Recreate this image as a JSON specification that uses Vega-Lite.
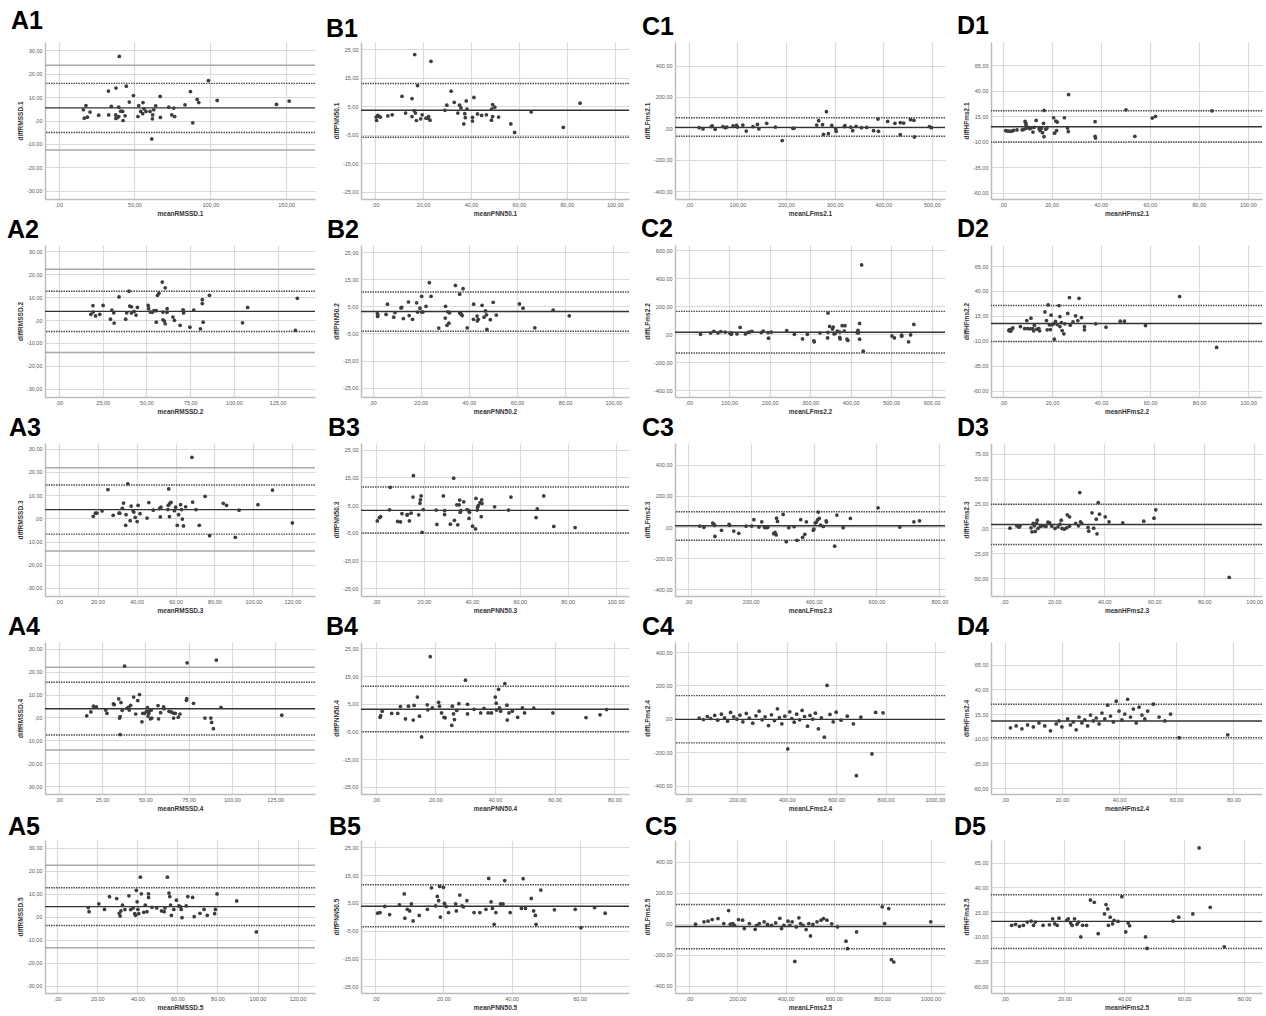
{
"$schema":"https://vega.github.io/schema/vega-lite/v6.json",
"padding":{"left":7,"top":9,"right":0,"bottom":2},
"columns":4,
"bounds":"flush",
"align":"each",
"spacing":{"row":46,"column":46},
"config":{
 "view":{"stroke":null},
 "axis":{"labelFont":"Liberation Sans","labelFontSize":5.5,"labelColor":"#595959","titleFont":"Liberation Sans","titleFontSize":6.5,"titleColor":"#333333","titleFontWeight":"bold","gridColor":"#dadada","gridWidth":1.2,"domainColor":"#bcbcbc","domainWidth":1.5,"ticks":false,"labelPadding":3,"titlePadding":3,"grid":true,"labelOverlap":false,"labelFlush":false,"labelBound":false},
 "title":{"font":"Liberation Sans","fontSize":25,"fontWeight":"bold","color":"#000000","anchor":"start","frame":"group","offset":0},
 "circle":{"size":14,"color":"#3d3d3d","opacity":1}
},
"datasets":{
"lines":[
{"p":"A1","t":"ci","y":23.6},{"p":"A1","t":"ci","y":-12.6},{"p":"A1","t":"loa","y":15.9},{"p":"A1","t":"loa","y":-5.1},{"p":"A1","t":"mean","y":5.4},
{"p":"A2","t":"ci","y":22.2},{"p":"A2","t":"ci","y":-14.2},{"p":"A2","t":"loa","y":12.6},{"p":"A2","t":"loa","y":-5.0},{"p":"A2","t":"mean","y":3.8},
{"p":"A3","t":"ci","y":21.8},{"p":"A3","t":"ci","y":-14.1},{"p":"A3","t":"loa","y":14.4},{"p":"A3","t":"loa","y":-6.8},{"p":"A3","t":"mean","y":3.75},
{"p":"A4","t":"ci","y":21.9},{"p":"A4","t":"ci","y":-14.2},{"p":"A4","t":"loa","y":15.4},{"p":"A4","t":"loa","y":-7.7},{"p":"A4","t":"mean","y":3.8},
{"p":"A5","t":"ci","y":22.4},{"p":"A5","t":"ci","y":-13.5},{"p":"A5","t":"loa","y":12.6},{"p":"A5","t":"loa","y":-3.8},{"p":"A5","t":"mean","y":4.4},
{"p":"B1","t":"loa","y":13.0},{"p":"B1","t":"loa","y":-5.9},{"p":"B1","t":"mean","y":3.6},
{"p":"B2","t":"loa","y":10.3},{"p":"B2","t":"loa","y":-4.2},{"p":"B2","t":"mean","y":3.1},
{"p":"B3","t":"loa","y":11.5},{"p":"B3","t":"loa","y":-5.1},{"p":"B3","t":"mean","y":3.1},
{"p":"B4","t":"loa","y":11.3},{"p":"B4","t":"loa","y":-5.1},{"p":"B4","t":"mean","y":3.0},
{"p":"B5","t":"loa","y":11.5},{"p":"B5","t":"loa","y":-3.6},{"p":"B5","t":"mean","y":3.8},
{"p":"C1","t":"loa","y":67.7},{"p":"C1","t":"loa","y":-50.8},{"p":"C1","t":"mean","y":6.3},
{"p":"C2","t":"loa","y":163},{"p":"C2","t":"loa","y":-133},{"p":"C2","t":"mean","y":14},
{"p":"C3","t":"loa","y":98},{"p":"C3","t":"loa","y":-85},{"p":"C3","t":"mean","y":8.5},
{"p":"C4","t":"loa","y":139},{"p":"C4","t":"loa","y":-144},{"p":"C4","t":"mean","y":-3},
{"p":"C5","t":"loa","y":123},{"p":"C5","t":"loa","y":-162},{"p":"C5","t":"mean","y":-19},
{"p":"D1","t":"loa","y":20.5},{"p":"D1","t":"loa","y":-10},{"p":"D1","t":"mean","y":4.9},
{"p":"D2","t":"loa","y":25.4},{"p":"D2","t":"loa","y":-10.7},{"p":"D2","t":"mean","y":7.3},
{"p":"D3","t":"loa","y":24.3},{"p":"D3","t":"loa","y":-16},{"p":"D3","t":"mean","y":4.0},
{"p":"D4","t":"loa","y":25},{"p":"D4","t":"loa","y":-9},{"p":"D4","t":"mean","y":8},
{"p":"D5","t":"loa","y":32.7},{"p":"D5","t":"loa","y":-21.7},{"p":"D5","t":"mean","y":5.7}
],
"pts":[
{"p":"A1","x":40,"y":27.4},{"p":"A1","x":16.3,"y":4.6},{"p":"A1","x":16.9,"y":1.0},{"p":"A1","x":18.0,"y":6.4},{"p":"A1","x":18.9,"y":1.4},{"p":"A1","x":20.7,"y":3.6},{"p":"A1","x":26.4,"y":2.3},{"p":"A1","x":32.8,"y":12.6},{"p":"A1","x":33.0,"y":2.4},{"p":"A1","x":34.7,"y":6.0},{"p":"A1","x":37.6,"y":2.4},{"p":"A1","x":37.8,"y":13.9},{"p":"A1","x":37.8,"y":0.9},{"p":"A1","x":38.7,"y":1.3},{"p":"A1","x":39.6,"y":1.7},{"p":"A1","x":39.6,"y":5.7},{"p":"A1","x":40.9,"y":4.0},{"p":"A1","x":42.2,"y":3.9},{"p":"A1","x":42.5,"y":0},{"p":"A1","x":43.8,"y":2.0},{"p":"A1","x":44.6,"y":14.7},{"p":"A1","x":46.6,"y":7.9},{"p":"A1","x":49.3,"y":10.7},{"p":"A1","x":52.3,"y":1.7},{"p":"A1","x":52.8,"y":6.4},{"p":"A1","x":54.1,"y":3.9},{"p":"A1","x":55.4,"y":2.9},{"p":"A1","x":55.6,"y":7.7},{"p":"A1","x":56.3,"y":5.0},{"p":"A1","x":57.6,"y":3.9},{"p":"A1","x":60.3,"y":3.9},{"p":"A1","x":61.4,"y":-7.9},{"p":"A1","x":61.8,"y":0.7},{"p":"A1","x":62.0,"y":2.4},{"p":"A1","x":62.7,"y":4.6},{"p":"A1","x":64.0,"y":6.3},{"p":"A1","x":66.9,"y":10.3},{"p":"A1","x":67.1,"y":1.3},{"p":"A1","x":72.6,"y":5.7},{"p":"A1","x":74.6,"y":2.4},{"p":"A1","x":75.9,"y":5.3},{"p":"A1","x":76.5,"y":1.7},{"p":"A1","x":83.3,"y":6.7},{"p":"A1","x":86.9,"y":12.4},{"p":"A1","x":88.4,"y":-1.0},{"p":"A1","x":91.3,"y":9.0},{"p":"A1","x":92.4,"y":7.7},{"p":"A1","x":98.7,"y":17.1},{"p":"A1","x":104.5,"y":8.6},{"p":"A1","x":143.6,"y":6.9},{"p":"A1","x":152.0,"y":8.3},
{"p":"B1","x":16.5,"y":23.2},{"p":"B1","x":23.3,"y":20.8},{"p":"B1","x":17.7,"y":12.3},{"p":"B1","x":11.2,"y":8.5},{"p":"B1","x":15.4,"y":7.7},{"p":"B1","x":0.4,"y":1.2},{"p":"B1","x":0.6,"y":0},{"p":"B1","x":1.1,"y":1.8},{"p":"B1","x":1.7,"y":1.4},{"p":"B1","x":2.2,"y":1.2},{"p":"B1","x":5.3,"y":1.6},{"p":"B1","x":7.1,"y":2.0},{"p":"B1","x":12.7,"y":2.6},{"p":"B1","x":15.4,"y":1.4},{"p":"B1","x":16.3,"y":3.4},{"p":"B1","x":16.8,"y":2.6},{"p":"B1","x":17.2,"y":0},{"p":"B1","x":19.0,"y":0.6},{"p":"B1","x":19.6,"y":2.0},{"p":"B1","x":21.2,"y":0.8},{"p":"B1","x":22.1,"y":0.8},{"p":"B1","x":22.3,"y":1.4},{"p":"B1","x":22.9,"y":0.1},{"p":"B1","x":29.1,"y":3.6},{"p":"B1","x":29.9,"y":5.4},{"p":"B1","x":31.7,"y":10.3},{"p":"B1","x":33.0,"y":6.4},{"p":"B1","x":34.5,"y":2.6},{"p":"B1","x":35.2,"y":5.4},{"p":"B1","x":35.8,"y":4.4},{"p":"B1","x":37.4,"y":2.4},{"p":"B1","x":37.0,"y":-1.2},{"p":"B1","x":37.6,"y":1.0},{"p":"B1","x":38.0,"y":6.9},{"p":"B1","x":38.3,"y":4.0},{"p":"B1","x":40.6,"y":1.1},{"p":"B1","x":40.6,"y":-0.2},{"p":"B1","x":41.2,"y":8.1},{"p":"B1","x":42.7,"y":2.3},{"p":"B1","x":44.4,"y":1.8},{"p":"B1","x":46.4,"y":2.0},{"p":"B1","x":48.5,"y":0.1},{"p":"B1","x":48.6,"y":4.0},{"p":"B1","x":49.0,"y":5.6},{"p":"B1","x":49.0,"y":1.4},{"p":"B1","x":49.9,"y":4.7},{"p":"B1","x":51.5,"y":1.2},{"p":"B1","x":56.6,"y":-1.2},{"p":"B1","x":58.2,"y":-4.2},{"p":"B1","x":65.1,"y":3.0},{"p":"B1","x":78.5,"y":-2.4},{"p":"B1","x":85.5,"y":6.1},
{"p":"C1","x":21,"y":4},{"p":"C1","x":29,"y":-4},{"p":"C1","x":46,"y":11},{"p":"C1","x":48,"y":15},{"p":"C1","x":54,"y":-6},{"p":"C1","x":70,"y":11},{"p":"C1","x":75,"y":4},{"p":"C1","x":78,"y":8},{"p":"C1","x":91,"y":15},{"p":"C1","x":98,"y":19},{"p":"C1","x":100,"y":8},{"p":"C1","x":111,"y":21},{"p":"C1","x":118,"y":-17},{"p":"C1","x":132,"y":11},{"p":"C1","x":141,"y":25},{"p":"C1","x":144,"y":-4},{"p":"C1","x":160,"y":32},{"p":"C1","x":178,"y":8},{"p":"C1","x":192,"y":-78},{"p":"C1","x":214,"y":0},{"p":"C1","x":216,"y":0},{"p":"C1","x":263,"y":21},{"p":"C1","x":267,"y":49},{"p":"C1","x":275,"y":23},{"p":"C1","x":277,"y":-38},{"p":"C1","x":283,"y":106},{"p":"C1","x":287,"y":-34},{"p":"C1","x":294,"y":19},{"p":"C1","x":302,"y":-4},{"p":"C1","x":303,"y":-19},{"p":"C1","x":320,"y":11},{"p":"C1","x":321,"y":17},{"p":"C1","x":333,"y":8},{"p":"C1","x":337,"y":-15},{"p":"C1","x":344,"y":13},{"p":"C1","x":355,"y":4},{"p":"C1","x":366,"y":6},{"p":"C1","x":380,"y":-15},{"p":"C1","x":389,"y":59},{"p":"C1","x":390,"y":-19},{"p":"C1","x":409,"y":44},{"p":"C1","x":424,"y":32},{"p":"C1","x":435,"y":36},{"p":"C1","x":435,"y":-40},{"p":"C1","x":442,"y":34},{"p":"C1","x":456,"y":55},{"p":"C1","x":463,"y":51},{"p":"C1","x":464,"y":-55},{"p":"C1","x":495,"y":11},{"p":"C1","x":499,"y":4},
{"p":"D1","x":1.3,"y":1.0},{"p":"D1","x":1.9,"y":0.7},{"p":"D1","x":2.5,"y":0.7},{"p":"D1","x":3.3,"y":0.4},{"p":"D1","x":3.9,"y":0.7},{"p":"D1","x":4.5,"y":1.4},{"p":"D1","x":5.9,"y":1.7},{"p":"D1","x":8.0,"y":1.7},{"p":"D1","x":8.7,"y":2.3},{"p":"D1","x":9.2,"y":10.1},{"p":"D1","x":9.5,"y":8.2},{"p":"D1","x":9.6,"y":6.2},{"p":"D1","x":9.7,"y":3.6},{"p":"D1","x":10.3,"y":4.3},{"p":"D1","x":11.1,"y":3.0},{"p":"D1","x":11.6,"y":3.6},{"p":"D1","x":12.4,"y":-0.3},{"p":"D1","x":12.9,"y":4.3},{"p":"D1","x":13.7,"y":11.1},{"p":"D1","x":14.9,"y":3.0},{"p":"D1","x":15.3,"y":1.0},{"p":"D1","x":15.9,"y":3.6},{"p":"D1","x":16.3,"y":-0.9},{"p":"D1","x":16.7,"y":8.2},{"p":"D1","x":16.9,"y":20.9},{"p":"D1","x":16.9,"y":-4.9},{"p":"D1","x":17.6,"y":2.3},{"p":"D1","x":18.1,"y":3.6},{"p":"D1","x":20.8,"y":13.7},{"p":"D1","x":21.2,"y":-1.5},{"p":"D1","x":21.7,"y":10.5},{"p":"D1","x":22.0,"y":1.0},{"p":"D1","x":22.3,"y":9.5},{"p":"D1","x":25.2,"y":13.7},{"p":"D1","x":26.5,"y":3.6},{"p":"D1","x":26.9,"y":36.4},{"p":"D1","x":26.8,"y":0.1},{"p":"D1","x":37.7,"y":9.8},{"p":"D1","x":37.7,"y":-4.5},{"p":"D1","x":37.9,"y":-6.2},{"p":"D1","x":50.3,"y":21.5},{"p":"D1","x":53.9,"y":-4.5},{"p":"D1","x":61.0,"y":13.4},{"p":"D1","x":62.3,"y":15.0},{"p":"D1","x":85.3,"y":20.5},
{"p":"A2","x":18.2,"y":2.5},{"p":"A2","x":19.4,"y":6.3},{"p":"A2","x":19.5,"y":3.5},{"p":"A2","x":20.9,"y":1.8},{"p":"A2","x":23.3,"y":2.5},{"p":"A2","x":25.2,"y":6.4},{"p":"A2","x":29.4,"y":0.4},{"p":"A2","x":30.2,"y":4.4},{"p":"A2","x":31.3,"y":3.2},{"p":"A2","x":31.5,"y":-1.3},{"p":"A2","x":34.3,"y":10.1},{"p":"A2","x":38.1,"y":0.4},{"p":"A2","x":38.7,"y":3.2},{"p":"A2","x":40.0,"y":12.6},{"p":"A2","x":40.4,"y":6.1},{"p":"A2","x":41.4,"y":5.8},{"p":"A2","x":41.4,"y":3.1},{"p":"A2","x":42.9,"y":3.8},{"p":"A2","x":44.0,"y":2.2},{"p":"A2","x":44.8,"y":5.5},{"p":"A2","x":51.0,"y":6.4},{"p":"A2","x":51.2,"y":5.0},{"p":"A2","x":52.2,"y":3.5},{"p":"A2","x":53.3,"y":3.4},{"p":"A2","x":54.3,"y":4.1},{"p":"A2","x":55.6,"y":4.1},{"p":"A2","x":55.6,"y":-0.9},{"p":"A2","x":56.3,"y":10.8},{"p":"A2","x":57.1,"y":11.7},{"p":"A2","x":59.0,"y":16.6},{"p":"A2","x":59.4,"y":3.5},{"p":"A2","x":59.4,"y":0.1},{"p":"A2","x":60.2,"y":-0.4},{"p":"A2","x":60.7,"y":-1.6},{"p":"A2","x":60.7,"y":14.1},{"p":"A2","x":61.7,"y":3.4},{"p":"A2","x":61.8,"y":5.0},{"p":"A2","x":65.1,"y":1.3},{"p":"A2","x":66.0,"y":-0.1},{"p":"A2","x":69.2,"y":-2.3},{"p":"A2","x":70.9,"y":4.5},{"p":"A2","x":71.2,"y":3.8},{"p":"A2","x":71.2,"y":3.1},{"p":"A2","x":74.8,"y":-3.1},{"p":"A2","x":77.0,"y":4.4},{"p":"A2","x":80.8,"y":-3.8},{"p":"A2","x":81.9,"y":8.9},{"p":"A2","x":81.9,"y":7.2},{"p":"A2","x":82.4,"y":-0.9},{"p":"A2","x":86.0,"y":10.8},{"p":"A2","x":104.9,"y":-1.2},{"p":"A2","x":107.8,"y":5.5},{"p":"A2","x":135.1,"y":-4.5},{"p":"A2","x":136.2,"y":9.5},
{"p":"B2","x":2.0,"y":2.3},{"p":"B2","x":2.1,"y":1.3},{"p":"B2","x":2.2,"y":1.8},{"p":"B2","x":5.6,"y":2.0},{"p":"B2","x":6.2,"y":5.8},{"p":"B2","x":8.8,"y":1.0},{"p":"B2","x":9.3,"y":2.7},{"p":"B2","x":11.8,"y":4.4},{"p":"B2","x":12.1,"y":4.6},{"p":"B2","x":12.8,"y":0.5},{"p":"B2","x":14.9,"y":6.6},{"p":"B2","x":15.2,"y":1.6},{"p":"B2","x":16.6,"y":0.2},{"p":"B2","x":18.3,"y":6.3},{"p":"B2","x":18.7,"y":2.9},{"p":"B2","x":19.7,"y":4.3},{"p":"B2","x":20.4,"y":8.7},{"p":"B2","x":20.4,"y":2.9},{"p":"B2","x":20.9,"y":2.9},{"p":"B2","x":22.2,"y":5.0},{"p":"B2","x":23.6,"y":13.7},{"p":"B2","x":24.3,"y":8.7},{"p":"B2","x":27.5,"y":-3.0},{"p":"B2","x":30.3,"y":5.0},{"p":"B2","x":30.2,"y":0.7},{"p":"B2","x":30.9,"y":-2.0},{"p":"B2","x":31.3,"y":3.0},{"p":"B2","x":31.7,"y":-1.2},{"p":"B2","x":32.0,"y":2.6},{"p":"B2","x":34.4,"y":12.7},{"p":"B2","x":36.2,"y":9.5},{"p":"B2","x":36.2,"y":2.6},{"p":"B2","x":36.5,"y":2.4},{"p":"B2","x":36.9,"y":2.0},{"p":"B2","x":37.2,"y":1.6},{"p":"B2","x":37.6,"y":11.5},{"p":"B2","x":39.3,"y":-2.9},{"p":"B2","x":42.0,"y":5.8},{"p":"B2","x":41.9,"y":0.2},{"p":"B2","x":43.4,"y":1.4},{"p":"B2","x":43.5,"y":-0.4},{"p":"B2","x":43.9,"y":0.2},{"p":"B2","x":45.5,"y":5.4},{"p":"B2","x":46.3,"y":1.0},{"p":"B2","x":46.9,"y":3.3},{"p":"B2","x":47.3,"y":1.9},{"p":"B2","x":47.5,"y":-3.5},{"p":"B2","x":48.9,"y":0.1},{"p":"B2","x":50.1,"y":6.5},{"p":"B2","x":51.4,"y":1.8},{"p":"B2","x":61.0,"y":5.9},{"p":"B2","x":62.5,"y":4.3},{"p":"B2","x":67.4,"y":-2.9},{"p":"B2","x":75.0,"y":3.6},{"p":"B2","x":81.7,"y":1.5},
{"p":"C2","x":29,"y":0},{"p":"C2","x":54,"y":9},{"p":"C2","x":62,"y":21},{"p":"C2","x":72,"y":9},{"p":"C2","x":79,"y":19},{"p":"C2","x":90,"y":16},{"p":"C2","x":102,"y":7},{"p":"C2","x":105,"y":0},{"p":"C2","x":106,"y":9},{"p":"C2","x":119,"y":2},{"p":"C2","x":127,"y":49},{"p":"C2","x":140,"y":2},{"p":"C2","x":147,"y":14},{"p":"C2","x":150,"y":16},{"p":"C2","x":156,"y":21},{"p":"C2","x":179,"y":12},{"p":"C2","x":184,"y":23},{"p":"C2","x":197,"y":-28},{"p":"C2","x":196,"y":12},{"p":"C2","x":204,"y":16},{"p":"C2","x":242,"y":26},{"p":"C2","x":261,"y":0},{"p":"C2","x":281,"y":-33},{"p":"C2","x":293,"y":0},{"p":"C2","x":309,"y":-47},{"p":"C2","x":310,"y":-54},{"p":"C2","x":324,"y":9},{"p":"C2","x":344,"y":151},{"p":"C2","x":343,"y":-26},{"p":"C2","x":344,"y":14},{"p":"C2","x":348,"y":56},{"p":"C2","x":355,"y":37},{"p":"C2","x":357,"y":51},{"p":"C2","x":359,"y":2},{"p":"C2","x":362,"y":7},{"p":"C2","x":367,"y":23},{"p":"C2","x":373,"y":16},{"p":"C2","x":373,"y":-23},{"p":"C2","x":374,"y":-33},{"p":"C2","x":379,"y":61},{"p":"C2","x":384,"y":23},{"p":"C2","x":386,"y":61},{"p":"C2","x":391,"y":-35},{"p":"C2","x":393,"y":-44},{"p":"C2","x":416,"y":12},{"p":"C2","x":418,"y":28},{"p":"C2","x":419,"y":9},{"p":"C2","x":422,"y":-35},{"p":"C2","x":422,"y":77},{"p":"C2","x":427,"y":494},{"p":"C2","x":431,"y":-121},{"p":"C2","x":502,"y":-12},{"p":"C2","x":508,"y":-26},{"p":"C2","x":526,"y":-7},{"p":"C2","x":526,"y":-14},{"p":"C2","x":543,"y":-54},{"p":"C2","x":548,"y":-5},{"p":"C2","x":556,"y":70},
{"p":"D2","x":2.4,"y":0.3},{"p":"D2","x":2.6,"y":1.3},{"p":"D2","x":3.1,"y":-0.4},{"p":"D2","x":3.6,"y":1.6},{"p":"D2","x":4.0,"y":3.0},{"p":"D2","x":7.1,"y":4.3},{"p":"D2","x":8.8,"y":2.3},{"p":"D2","x":9.7,"y":10.3},{"p":"D2","x":10.0,"y":2.3},{"p":"D2","x":11.1,"y":2.0},{"p":"D2","x":11.4,"y":12.7},{"p":"D2","x":12.1,"y":2.3},{"p":"D2","x":12.5,"y":0},{"p":"D2","x":12.8,"y":5.6},{"p":"D2","x":13.8,"y":1.6},{"p":"D2","x":14.6,"y":2.3},{"p":"D2","x":14.9,"y":0},{"p":"D2","x":17.1,"y":19.0},{"p":"D2","x":17.7,"y":10.3},{"p":"D2","x":18.0,"y":1.0},{"p":"D2","x":18.4,"y":26.0},{"p":"D2","x":18.9,"y":6.0},{"p":"D2","x":19.3,"y":1.3},{"p":"D2","x":19.6,"y":15.7},{"p":"D2","x":19.9,"y":6.0},{"p":"D2","x":20.6,"y":7.0},{"p":"D2","x":20.9,"y":-8.4},{"p":"D2","x":21.4,"y":9.4},{"p":"D2","x":22.1,"y":6.3},{"p":"D2","x":22.8,"y":25.4},{"p":"D2","x":23.2,"y":14.3},{"p":"D2","x":23.2,"y":4.3},{"p":"D2","x":23.8,"y":8.3},{"p":"D2","x":24.1,"y":0.3},{"p":"D2","x":24.8,"y":-3.0},{"p":"D2","x":25.2,"y":7.0},{"p":"D2","x":26.4,"y":17.4},{"p":"D2","x":27.1,"y":33.4},{"p":"D2","x":27.4,"y":5.6},{"p":"D2","x":28.5,"y":8.9},{"p":"D2","x":29.6,"y":15.0},{"p":"D2","x":30.5,"y":10.3},{"p":"D2","x":31.0,"y":32.7},{"p":"D2","x":32.0,"y":13.3},{"p":"D2","x":33.2,"y":4.3},{"p":"D2","x":33.2,"y":1.0},{"p":"D2","x":37.8,"y":7.0},{"p":"D2","x":42.0,"y":3.6},{"p":"D2","x":47.8,"y":9.7},{"p":"D2","x":49.5,"y":9.7},{"p":"D2","x":58.1,"y":5.3},{"p":"D2","x":72.0,"y":34.4},{"p":"D2","x":87.1,"y":-16.7},
{"p":"A3","x":17.8,"y":0.9},{"p":"A3","x":18.9,"y":2.2},{"p":"A3","x":19.7,"y":2.3},{"p":"A3","x":22.3,"y":3.2},{"p":"A3","x":25.3,"y":12.4},{"p":"A3","x":28.0,"y":1.3},{"p":"A3","x":31.0,"y":2.2},{"p":"A3","x":31.4,"y":2.2},{"p":"A3","x":32.7,"y":4.3},{"p":"A3","x":33.3,"y":6.6},{"p":"A3","x":34.4,"y":-3.0},{"p":"A3","x":34.6,"y":1.6},{"p":"A3","x":35.5,"y":14.9},{"p":"A3","x":36.7,"y":-1.0},{"p":"A3","x":37.2,"y":5.3},{"p":"A3","x":38.2,"y":3.3},{"p":"A3","x":38.6,"y":2.7},{"p":"A3","x":39.3,"y":0.4},{"p":"A3","x":40.3,"y":-1.4},{"p":"A3","x":40.8,"y":5.6},{"p":"A3","x":41.8,"y":2.0},{"p":"A3","x":45.4,"y":0.1},{"p":"A3","x":46.3,"y":6.8},{"p":"A3","x":48.6,"y":3.5},{"p":"A3","x":51.8,"y":4.2},{"p":"A3","x":52.2,"y":0.6},{"p":"A3","x":52.5,"y":4.8},{"p":"A3","x":56.1,"y":3.8},{"p":"A3","x":56.3,"y":5.6},{"p":"A3","x":56.5,"y":12.7},{"p":"A3","x":56.9,"y":0.7},{"p":"A3","x":57.1,"y":6.5},{"p":"A3","x":57.7,"y":6.9},{"p":"A3","x":59.4,"y":3.3},{"p":"A3","x":60.1,"y":4.8},{"p":"A3","x":60.9,"y":-3.0},{"p":"A3","x":61.6,"y":1.6},{"p":"A3","x":62.6,"y":5.9},{"p":"A3","x":63.1,"y":3.8},{"p":"A3","x":63.5,"y":-0.3},{"p":"A3","x":64.1,"y":-3.3},{"p":"A3","x":65.2,"y":5.0},{"p":"A3","x":68.4,"y":26.3},{"p":"A3","x":68.8,"y":7.0},{"p":"A3","x":70.5,"y":3.8},{"p":"A3","x":72.2,"y":-3.0},{"p":"A3","x":75.2,"y":9.5},{"p":"A3","x":77.5,"y":-7.5},{"p":"A3","x":84.5,"y":6.5},{"p":"A3","x":86.2,"y":5.6},{"p":"A3","x":90.7,"y":-8.2},{"p":"A3","x":92.6,"y":3.5},{"p":"A3","x":102.3,"y":5.9},{"p":"A3","x":109.8,"y":12.2},{"p":"A3","x":120.0,"y":-2.0},
{"p":"B3","x":0.5,"y":-0.7},{"p":"B3","x":1.4,"y":0.5},{"p":"B3","x":1.9,"y":0.8},{"p":"B3","x":5.6,"y":3.3},{"p":"B3","x":5.9,"y":11.4},{"p":"B3","x":9.0,"y":-0.9},{"p":"B3","x":10.2,"y":-1.1},{"p":"B3","x":10.8,"y":1.9},{"p":"B3","x":12.9,"y":1.4},{"p":"B3","x":13.1,"y":1.6},{"p":"B3","x":13.9,"y":-0.7},{"p":"B3","x":14.6,"y":2.1},{"p":"B3","x":15.4,"y":7.9},{"p":"B3","x":15.6,"y":15.6},{"p":"B3","x":17.8,"y":1.5},{"p":"B3","x":18.3,"y":5.7},{"p":"B3","x":18.5,"y":6.9},{"p":"B3","x":18.8,"y":8.3},{"p":"B3","x":19.2,"y":-4.8},{"p":"B3","x":19.7,"y":3.4},{"p":"B3","x":25.1,"y":3.2},{"p":"B3","x":25.4,"y":-2.0},{"p":"B3","x":28.1,"y":8.3},{"p":"B3","x":28.6,"y":3.0},{"p":"B3","x":28.6,"y":1.6},{"p":"B3","x":31.0,"y":-1.9},{"p":"B3","x":32.4,"y":14.7},{"p":"B3","x":32.7,"y":-0.5},{"p":"B3","x":33.7,"y":5.1},{"p":"B3","x":34.1,"y":-2.1},{"p":"B3","x":34.7,"y":5.1},{"p":"B3","x":34.9,"y":6.8},{"p":"B3","x":35.1,"y":2.4},{"p":"B3","x":35.4,"y":3.0},{"p":"B3","x":36.6,"y":6.2},{"p":"B3","x":38.0,"y":3.4},{"p":"B3","x":38.8,"y":3.0},{"p":"B3","x":38.8,"y":0.2},{"p":"B3","x":39.0,"y":2.4},{"p":"B3","x":40.3,"y":-2.6},{"p":"B3","x":41.5,"y":-3.6},{"p":"B3","x":41.7,"y":7.4},{"p":"B3","x":42.2,"y":3.2},{"p":"B3","x":42.4,"y":4.2},{"p":"B3","x":42.7,"y":4.9},{"p":"B3","x":43.4,"y":5.9},{"p":"B3","x":43.9,"y":0.8},{"p":"B3","x":44.1,"y":6.9},{"p":"B3","x":44.2,"y":5.6},{"p":"B3","x":49.5,"y":4.4},{"p":"B3","x":55.3,"y":3.2},{"p":"B3","x":56.3,"y":7.9},{"p":"B3","x":66.8,"y":0.5},{"p":"B3","x":67.3,"y":3.6},{"p":"B3","x":70.0,"y":8.3},{"p":"B3","x":74.2,"y":-2.7},{"p":"B3","x":83.1,"y":-3.1},
{"p":"C3","x":38,"y":6},{"p":"C3","x":51,"y":-2},{"p":"C3","x":79,"y":26},{"p":"C3","x":83,"y":17},{"p":"C3","x":86,"y":-60},{"p":"C3","x":85,"y":11},{"p":"C3","x":107,"y":-21},{"p":"C3","x":131,"y":17},{"p":"C3","x":133,"y":11},{"p":"C3","x":146,"y":-26},{"p":"C3","x":162,"y":-40},{"p":"C3","x":185,"y":6},{"p":"C3","x":203,"y":6},{"p":"C3","x":210,"y":47},{"p":"C3","x":226,"y":0},{"p":"C3","x":235,"y":34},{"p":"C3","x":244,"y":-2},{"p":"C3","x":249,"y":-4},{"p":"C3","x":254,"y":-2},{"p":"C3","x":273,"y":-43},{"p":"C3","x":277,"y":-34},{"p":"C3","x":281,"y":-51},{"p":"C3","x":282,"y":57},{"p":"C3","x":285,"y":36},{"p":"C3","x":303,"y":81},{"p":"C3","x":313,"y":-94},{"p":"C3","x":321,"y":-4},{"p":"C3","x":338,"y":2},{"p":"C3","x":347,"y":-85},{"p":"C3","x":359,"y":47},{"p":"C3","x":365,"y":-66},{"p":"C3","x":372,"y":-47},{"p":"C3","x":377,"y":34},{"p":"C3","x":399,"y":-21},{"p":"C3","x":401,"y":-13},{"p":"C3","x":405,"y":26},{"p":"C3","x":409,"y":32},{"p":"C3","x":413,"y":47},{"p":"C3","x":415,"y":96},{"p":"C3","x":418,"y":55},{"p":"C3","x":422,"y":13},{"p":"C3","x":431,"y":4},{"p":"C3","x":440,"y":40},{"p":"C3","x":441,"y":32},{"p":"C3","x":467,"y":-123},{"p":"C3","x":474,"y":77},{"p":"C3","x":494,"y":-4},{"p":"C3","x":517,"y":55},{"p":"C3","x":605,"y":123},{"p":"C3","x":674,"y":0},{"p":"C3","x":719,"y":34},{"p":"C3","x":737,"y":40},
{"p":"D3","x":2.3,"y":0.3},{"p":"D3","x":5.0,"y":2.7},{"p":"D3","x":5.9,"y":1.3},{"p":"D3","x":6.3,"y":2.7},{"p":"D3","x":10.7,"y":0.7},{"p":"D3","x":11.1,"y":-3.3},{"p":"D3","x":11.6,"y":5.0},{"p":"D3","x":12.0,"y":2.7},{"p":"D3","x":12.4,"y":-3.0},{"p":"D3","x":12.9,"y":5.0},{"p":"D3","x":13.2,"y":8.3},{"p":"D3","x":13.5,"y":0},{"p":"D3","x":14.5,"y":2.0},{"p":"D3","x":15.7,"y":2.7},{"p":"D3","x":16.7,"y":2.0},{"p":"D3","x":17.5,"y":6.3},{"p":"D3","x":18.2,"y":5.7},{"p":"D3","x":19.0,"y":2.3},{"p":"D3","x":20.3,"y":0},{"p":"D3","x":21.5,"y":1.7},{"p":"D3","x":22.3,"y":4.3},{"p":"D3","x":22.8,"y":8.3},{"p":"D3","x":23.1,"y":0},{"p":"D3","x":24.0,"y":-0.7},{"p":"D3","x":25.0,"y":0.7},{"p":"D3","x":25.2,"y":13.7},{"p":"D3","x":26.1,"y":11.7},{"p":"D3","x":26.1,"y":2.3},{"p":"D3","x":28.6,"y":5.0},{"p":"D3","x":29.7,"y":2.7},{"p":"D3","x":30.2,"y":36.0},{"p":"D3","x":30.5,"y":6.7},{"p":"D3","x":31.0,"y":5.0},{"p":"D3","x":33.5,"y":1.0},{"p":"D3","x":33.8,"y":-2.7},{"p":"D3","x":35.1,"y":15.7},{"p":"D3","x":35.8,"y":0.3},{"p":"D3","x":36.8,"y":9.3},{"p":"D3","x":37.1,"y":-5.3},{"p":"D3","x":37.6,"y":26.0},{"p":"D3","x":38.1,"y":14.3},{"p":"D3","x":40.4,"y":11.7},{"p":"D3","x":41.9,"y":6.7},{"p":"D3","x":47.4,"y":5.7},{"p":"D3","x":55.8,"y":7.3},{"p":"D3","x":59.9,"y":10.3},{"p":"D3","x":60.6,"y":18.7},{"p":"D3","x":90,"y":-49.0},
{"p":"A4","x":16.1,"y":0.7},{"p":"A4","x":18.5,"y":2.4},{"p":"A4","x":20.0,"y":4.9},{"p":"A4","x":21.7,"y":4.6},{"p":"A4","x":27.1,"y":3.2},{"p":"A4","x":27.8,"y":1.8},{"p":"A4","x":31.5,"y":5.9},{"p":"A4","x":32.0,"y":5.6},{"p":"A4","x":34.6,"y":8.1},{"p":"A4","x":35.1,"y":-0.3},{"p":"A4","x":35.4,"y":0.3},{"p":"A4","x":35.4,"y":-7.5},{"p":"A4","x":35.9,"y":6.5},{"p":"A4","x":36.6,"y":3.1},{"p":"A4","x":38.0,"y":22.5},{"p":"A4","x":39.3,"y":4.0},{"p":"A4","x":40.2,"y":4.4},{"p":"A4","x":40.7,"y":3.2},{"p":"A4","x":41.5,"y":5.3},{"p":"A4","x":43.2,"y":8.9},{"p":"A4","x":44.4,"y":1.5},{"p":"A4","x":45.6,"y":7.4},{"p":"A4","x":46.6,"y":10.0},{"p":"A4","x":48.0,"y":-1.9},{"p":"A4","x":48.5,"y":1.8},{"p":"A4","x":49.5,"y":1.8},{"p":"A4","x":50.7,"y":2.7},{"p":"A4","x":51.2,"y":4.3},{"p":"A4","x":51.5,"y":0.6},{"p":"A4","x":52.0,"y":1.8},{"p":"A4","x":52.4,"y":3.1},{"p":"A4","x":52.9,"y":-0.6},{"p":"A4","x":53.4,"y":3.2},{"p":"A4","x":53.7,"y":-0.3},{"p":"A4","x":57.3,"y":5.2},{"p":"A4","x":57.6,"y":-0.6},{"p":"A4","x":58.8,"y":2.1},{"p":"A4","x":60.5,"y":4.6},{"p":"A4","x":60.7,"y":3.8},{"p":"A4","x":63.7,"y":2.7},{"p":"A4","x":64.9,"y":2.4},{"p":"A4","x":66.1,"y":1.9},{"p":"A4","x":66.3,"y":-0.3},{"p":"A4","x":67.3,"y":1.8},{"p":"A4","x":69.0,"y":0.1},{"p":"A4","x":70.0,"y":1.5},{"p":"A4","x":73.7,"y":7.5},{"p":"A4","x":73.9,"y":8.2},{"p":"A4","x":74.1,"y":23.9},{"p":"A4","x":77.8,"y":6.2},{"p":"A4","x":84.4,"y":-0.3},{"p":"A4","x":87.8,"y":-0.3},{"p":"A4","x":88.3,"y":-2.2},{"p":"A4","x":89.3,"y":-4.9},{"p":"A4","x":91.0,"y":25.1},{"p":"A4","x":93.7,"y":4.4},{"p":"A4","x":128.8,"y":1.0},
{"p":"B4","x":1.5,"y":0.1},{"p":"B4","x":1.7,"y":0.7},{"p":"B4","x":2.2,"y":2.3},{"p":"B4","x":5.4,"y":1.5},{"p":"B4","x":7.4,"y":1.5},{"p":"B4","x":8.3,"y":4.0},{"p":"B4","x":10.0,"y":-0.5},{"p":"B4","x":11.0,"y":4.1},{"p":"B4","x":12.6,"y":-0.9},{"p":"B4","x":12.9,"y":4.4},{"p":"B4","x":14.0,"y":7.4},{"p":"B4","x":14.7,"y":0.5},{"p":"B4","x":15.4,"y":-7.0},{"p":"B4","x":17.3,"y":4.6},{"p":"B4","x":17.5,"y":2.8},{"p":"B4","x":18.3,"y":22.0},{"p":"B4","x":19.0,"y":3.5},{"p":"B4","x":21.1,"y":5.5},{"p":"B4","x":21.4,"y":4.1},{"p":"B4","x":22.1,"y":1.7},{"p":"B4","x":22.9,"y":0.1},{"p":"B4","x":23.3,"y":-0.1},{"p":"B4","x":25.5,"y":-2.8},{"p":"B4","x":25.7,"y":4.1},{"p":"B4","x":26.1,"y":1.3},{"p":"B4","x":26.4,"y":-0.7},{"p":"B4","x":27.2,"y":2.6},{"p":"B4","x":27.9,"y":5.0},{"p":"B4","x":30.1,"y":13.5},{"p":"B4","x":30.8,"y":4.8},{"p":"B4","x":30.8,"y":1.3},{"p":"B4","x":33.0,"y":3.0},{"p":"B4","x":35.2,"y":1.7},{"p":"B4","x":36.3,"y":3.3},{"p":"B4","x":37.7,"y":1.7},{"p":"B4","x":38.8,"y":1.7},{"p":"B4","x":40.1,"y":7.4},{"p":"B4","x":40.4,"y":5.2},{"p":"B4","x":40.5,"y":2.7},{"p":"B4","x":41.2,"y":10.2},{"p":"B4","x":41.5,"y":3.5},{"p":"B4","x":41.9,"y":2.3},{"p":"B4","x":43.3,"y":12.3},{"p":"B4","x":44.0,"y":4.5},{"p":"B4","x":44.1,"y":-0.9},{"p":"B4","x":44.7,"y":1.7},{"p":"B4","x":45.8,"y":2.3},{"p":"B4","x":47.6,"y":0.1},{"p":"B4","x":49.2,"y":3.5},{"p":"B4","x":49.9,"y":1.7},{"p":"B4","x":53.0,"y":3.4},{"p":"B4","x":59.4,"y":1.7},{"p":"B4","x":70.5,"y":0},{"p":"B4","x":75.2,"y":1.0},{"p":"B4","x":77.4,"y":2.9},
{"p":"C4","x":45,"y":5},{"p":"C4","x":62,"y":-4},{"p":"C4","x":78,"y":14},{"p":"C4","x":92,"y":2},{"p":"C4","x":108,"y":20},{"p":"C4","x":120,"y":-8},{"p":"C4","x":135,"y":28},{"p":"C4","x":148,"y":6},{"p":"C4","x":160,"y":-14},{"p":"C4","x":172,"y":38},{"p":"C4","x":185,"y":12},{"p":"C4","x":198,"y":-2},{"p":"C4","x":210,"y":22},{"p":"C4","x":222,"y":-18},{"p":"C4","x":236,"y":32},{"p":"C4","x":248,"y":4},{"p":"C4","x":262,"y":-26},{"p":"C4","x":275,"y":18},{"p":"C4","x":288,"y":46},{"p":"C4","x":300,"y":-6},{"p":"C4","x":312,"y":12},{"p":"C4","x":326,"y":-40},{"p":"C4","x":338,"y":24},{"p":"C4","x":350,"y":-10},{"p":"C4","x":362,"y":60},{"p":"C4","x":370,"y":8},{"p":"C4","x":380,"y":-30},{"p":"C4","x":392,"y":16},{"p":"C4","x":404,"y":-180},{"p":"C4","x":412,"y":42},{"p":"C4","x":420,"y":2},{"p":"C4","x":430,"y":-20},{"p":"C4","x":440,"y":28},{"p":"C4","x":452,"y":-6},{"p":"C4","x":462,"y":50},{"p":"C4","x":472,"y":14},{"p":"C4","x":484,"y":-44},{"p":"C4","x":494,"y":20},{"p":"C4","x":505,"y":-2},{"p":"C4","x":516,"y":34},{"p":"C4","x":528,"y":-60},{"p":"C4","x":540,"y":6},{"p":"C4","x":552,"y":-110},{"p":"C4","x":563,"y":200},{"p":"C4","x":575,"y":26},{"p":"C4","x":588,"y":-18},{"p":"C4","x":600,"y":40},{"p":"C4","x":620,"y":-8},{"p":"C4","x":645,"y":16},{"p":"C4","x":670,"y":-30},{"p":"C4","x":682,"y":-340},{"p":"C4","x":700,"y":10},{"p":"C4","x":745,"y":-210},{"p":"C4","x":760,"y":38},{"p":"C4","x":790,"y":36},
{"p":"D4","x":2,"y":1},{"p":"D4","x":4,"y":3},{"p":"D4","x":6,"y":0},{"p":"D4","x":8,"y":4},{"p":"D4","x":10,"y":2},{"p":"D4","x":12,"y":6},{"p":"D4","x":14,"y":3},{"p":"D4","x":16,"y":-2},{"p":"D4","x":18,"y":5},{"p":"D4","x":19,"y":8},{"p":"D4","x":20,"y":2},{"p":"D4","x":22,"y":10},{"p":"D4","x":23,"y":4},{"p":"D4","x":24,"y":7},{"p":"D4","x":25,"y":-1},{"p":"D4","x":26,"y":12},{"p":"D4","x":27,"y":6},{"p":"D4","x":28,"y":9},{"p":"D4","x":29,"y":3},{"p":"D4","x":30,"y":14},{"p":"D4","x":31,"y":8},{"p":"D4","x":32,"y":11},{"p":"D4","x":33,"y":5},{"p":"D4","x":34,"y":16},{"p":"D4","x":35,"y":10},{"p":"D4","x":36,"y":24},{"p":"D4","x":37,"y":13},{"p":"D4","x":38,"y":7},{"p":"D4","x":39,"y":28},{"p":"D4","x":40,"y":18},{"p":"D4","x":41,"y":9},{"p":"D4","x":42,"y":15},{"p":"D4","x":43,"y":30},{"p":"D4","x":44,"y":12},{"p":"D4","x":45,"y":20},{"p":"D4","x":46,"y":6},{"p":"D4","x":47,"y":22},{"p":"D4","x":48,"y":14},{"p":"D4","x":49,"y":10},{"p":"D4","x":50,"y":18},{"p":"D4","x":52,"y":25},{"p":"D4","x":54,"y":12},{"p":"D4","x":56,"y":8},{"p":"D4","x":58,"y":15},{"p":"D4","x":61,"y":-9},{"p":"D4","x":78,"y":-6},
{"p":"A5","x":15.5,"y":4.0},{"p":"A5","x":15.9,"y":2.2},{"p":"A5","x":20.8,"y":5.6},{"p":"A5","x":23.6,"y":3.2},{"p":"A5","x":26.1,"y":8.7},{"p":"A5","x":29.7,"y":7.9},{"p":"A5","x":31.0,"y":1.5},{"p":"A5","x":31.4,"y":0.3},{"p":"A5","x":31.8,"y":2.5},{"p":"A5","x":32.6,"y":5.1},{"p":"A5","x":33.8,"y":3.1},{"p":"A5","x":35.8,"y":9.1},{"p":"A5","x":36.7,"y":3.1},{"p":"A5","x":37.9,"y":3.8},{"p":"A5","x":38.7,"y":1.3},{"p":"A5","x":39.1,"y":0.6},{"p":"A5","x":39.5,"y":11.5},{"p":"A5","x":39.9,"y":6.5},{"p":"A5","x":40.3,"y":3.2},{"p":"A5","x":40.7,"y":1.3},{"p":"A5","x":41.5,"y":17.2},{"p":"A5","x":42.0,"y":10.0},{"p":"A5","x":43.2,"y":1.9},{"p":"A5","x":44.0,"y":5.0},{"p":"A5","x":44.8,"y":2.2},{"p":"A5","x":45.6,"y":10.0},{"p":"A5","x":45.6,"y":8.4},{"p":"A5","x":47.3,"y":4.1},{"p":"A5","x":49.7,"y":3.8},{"p":"A5","x":52.1,"y":2.5},{"p":"A5","x":53.4,"y":2.2},{"p":"A5","x":53.8,"y":3.8},{"p":"A5","x":55.0,"y":17.2},{"p":"A5","x":55.8,"y":10.3},{"p":"A5","x":56.2,"y":8.8},{"p":"A5","x":56.6,"y":5.1},{"p":"A5","x":57.0,"y":0.6},{"p":"A5","x":58.2,"y":3.2},{"p":"A5","x":59.5,"y":7.2},{"p":"A5","x":60.7,"y":4.7},{"p":"A5","x":61.5,"y":4.4},{"p":"A5","x":61.9,"y":3.2},{"p":"A5","x":62.3,"y":-0.4},{"p":"A5","x":64.4,"y":4.7},{"p":"A5","x":65.2,"y":8.8},{"p":"A5","x":67.6,"y":8.4},{"p":"A5","x":68.4,"y":0},{"p":"A5","x":71.3,"y":1.5},{"p":"A5","x":73.3,"y":3.2},{"p":"A5","x":74.9,"y":0.6},{"p":"A5","x":78.6,"y":1.3},{"p":"A5","x":79.0,"y":3.2},{"p":"A5","x":79.8,"y":9.9},{"p":"A5","x":89.6,"y":6.9},{"p":"A5","x":99.4,"y":-6.6},
{"p":"B5","x":0.7,"y":1.3},{"p":"B5","x":1.4,"y":1.5},{"p":"B5","x":2.8,"y":3.7},{"p":"B5","x":4.2,"y":0.8},{"p":"B5","x":7.1,"y":4.3},{"p":"B5","x":8.5,"y":8.2},{"p":"B5","x":8.7,"y":-0.5},{"p":"B5","x":9.4,"y":2.7},{"p":"B5","x":10.1,"y":2.1},{"p":"B5","x":10.6,"y":4.6},{"p":"B5","x":11.1,"y":-1.5},{"p":"B5","x":12.9,"y":0.5},{"p":"B5","x":15.3,"y":2.7},{"p":"B5","x":16.5,"y":10.4},{"p":"B5","x":17.7,"y":3.9},{"p":"B5","x":18.2,"y":7.3},{"p":"B5","x":18.6,"y":5.8},{"p":"B5","x":18.9,"y":10.9},{"p":"B5","x":19.1,"y":-0.1},{"p":"B5","x":20.0,"y":10.6},{"p":"B5","x":20.3,"y":4.8},{"p":"B5","x":20.8,"y":3.7},{"p":"B5","x":21.5,"y":1.5},{"p":"B5","x":23.6,"y":4.6},{"p":"B5","x":23.8,"y":2.1},{"p":"B5","x":24.8,"y":7.8},{"p":"B5","x":25.5,"y":3.9},{"p":"B5","x":25.9,"y":3.6},{"p":"B5","x":26.9,"y":5.8},{"p":"B5","x":29.0,"y":1.5},{"p":"B5","x":30.7,"y":1.5},{"p":"B5","x":32.5,"y":2.7},{"p":"B5","x":33.3,"y":13.8},{"p":"B5","x":34.0,"y":5.4},{"p":"B5","x":34.4,"y":3.0},{"p":"B5","x":34.9,"y":-2.7},{"p":"B5","x":35.4,"y":1.5},{"p":"B5","x":36.8,"y":4.6},{"p":"B5","x":37.5,"y":4.6},{"p":"B5","x":38.0,"y":13.0},{"p":"B5","x":39.6,"y":1.5},{"p":"B5","x":42.9,"y":3.0},{"p":"B5","x":43.4,"y":13.7},{"p":"B5","x":44.1,"y":3.0},{"p":"B5","x":45.8,"y":6.6},{"p":"B5","x":46.5,"y":2.1},{"p":"B5","x":47.0,"y":0.5},{"p":"B5","x":47.2,"y":-2.7},{"p":"B5","x":48.6,"y":9.6},{"p":"B5","x":52.6,"y":2.5},{"p":"B5","x":58.7,"y":2.7},{"p":"B5","x":60.4,"y":-3.9},{"p":"B5","x":64.4,"y":3.3},{"p":"B5","x":67.5,"y":1.3},
{"p":"C5","x":27,"y":-4},{"p":"C5","x":62,"y":11},{"p":"C5","x":79,"y":15},{"p":"C5","x":96,"y":26},{"p":"C5","x":120,"y":32},{"p":"C5","x":144,"y":0},{"p":"C5","x":164,"y":84},{"p":"C5","x":171,"y":-4},{"p":"C5","x":181,"y":0},{"p":"C5","x":188,"y":-11},{"p":"C5","x":205,"y":26},{"p":"C5","x":222,"y":22},{"p":"C5","x":229,"y":-32},{"p":"C5","x":250,"y":0},{"p":"C5","x":274,"y":-37},{"p":"C5","x":280,"y":-11},{"p":"C5","x":291,"y":0},{"p":"C5","x":311,"y":11},{"p":"C5","x":325,"y":-6},{"p":"C5","x":342,"y":-11},{"p":"C5","x":359,"y":4},{"p":"C5","x":376,"y":34},{"p":"C5","x":383,"y":-32},{"p":"C5","x":393,"y":-11},{"p":"C5","x":410,"y":15},{"p":"C5","x":417,"y":-11},{"p":"C5","x":427,"y":11},{"p":"C5","x":438,"y":-244},{"p":"C5","x":444,"y":-22},{"p":"C5","x":455,"y":37},{"p":"C5","x":462,"y":0},{"p":"C5","x":472,"y":-11},{"p":"C5","x":485,"y":-39},{"p":"C5","x":496,"y":0},{"p":"C5","x":503,"y":-80},{"p":"C5","x":513,"y":-6},{"p":"C5","x":530,"y":11},{"p":"C5","x":547,"y":22},{"p":"C5","x":557,"y":32},{"p":"C5","x":571,"y":22},{"p":"C5","x":591,"y":-2},{"p":"C5","x":615,"y":-22},{"p":"C5","x":650,"y":-114},{"p":"C5","x":656,"y":-162},{"p":"C5","x":694,"y":-54},{"p":"C5","x":800,"y":108},{"p":"C5","x":810,"y":0},{"p":"C5","x":827,"y":97},{"p":"C5","x":838,"y":-233},{"p":"C5","x":848,"y":-248},{"p":"C5","x":1001,"y":11},
{"p":"D5","x":2.4,"y":1.7},{"p":"D5","x":3.7,"y":2.7},{"p":"D5","x":5.0,"y":0.7},{"p":"D5","x":6.3,"y":1.7},{"p":"D5","x":7.6,"y":5.0},{"p":"D5","x":8.9,"y":6.0},{"p":"D5","x":9.7,"y":1.7},{"p":"D5","x":10.3,"y":5.0},{"p":"D5","x":12.9,"y":1.7},{"p":"D5","x":15.0,"y":2.3},{"p":"D5","x":16.1,"y":8.3},{"p":"D5","x":16.8,"y":3.3},{"p":"D5","x":17.6,"y":1.7},{"p":"D5","x":18.2,"y":9.0},{"p":"D5","x":20.8,"y":6.7},{"p":"D5","x":21.3,"y":8.3},{"p":"D5","x":22.1,"y":4.0},{"p":"D5","x":22.6,"y":1.7},{"p":"D5","x":23.4,"y":8.3},{"p":"D5","x":24.2,"y":2.7},{"p":"D5","x":24.7,"y":5.0},{"p":"D5","x":25.5,"y":-10.0},{"p":"D5","x":26.1,"y":1.7},{"p":"D5","x":27.4,"y":1.7},{"p":"D5","x":28.7,"y":27.3},{"p":"D5","x":30.0,"y":25.0},{"p":"D5","x":31.3,"y":-6.7},{"p":"D5","x":33.4,"y":13.3},{"p":"D5","x":33.9,"y":22.7},{"p":"D5","x":34.5,"y":18.3},{"p":"D5","x":34.7,"y":1.7},{"p":"D5","x":35.3,"y":10.0},{"p":"D5","x":36.1,"y":3.3},{"p":"D5","x":36.6,"y":6.7},{"p":"D5","x":37.9,"y":5.7},{"p":"D5","x":39.2,"y":30.7},{"p":"D5","x":40.5,"y":-5.0},{"p":"D5","x":41.3,"y":4.0},{"p":"D5","x":41.8,"y":1.3},{"p":"D5","x":47.1,"y":-10.0},{"p":"D5","x":47.6,"y":-21.7},{"p":"D5","x":56.3,"y":6.0},{"p":"D5","x":58.2,"y":10.0},{"p":"D5","x":62.9,"y":13.3},{"p":"D5","x":65.0,"y":80.0},{"p":"D5","x":68.7,"y":20.0},{"p":"D5","x":73.4,"y":-20.0}
]
},
"concat":[
{"width":270,"height":157,"title":{"text":"A1","dx":-34,"dy":-4},"layer":[
{"data":{"name":"lines"},"transform":[{"filter":"datum.p=='A1'"}],"mark":"rule","encoding":{"y":{"field":"y","type":"quantitative","title":"diffRMSSD.1","scale":{"domain":[-33.6,33.6],"nice":false,"zero":false},"axis":{"values":[-30,-20,-10,0,10,20,30],"labelOverlap":false,"labelExpr":"datum.value == 0 ? ',00' : replace(replace(format(datum.value, '.2f'), '.', ','), '\u2212', '-')"}},"color":{"field":"t","type":"nominal","scale":{"domain":["ci","loa","mean"],"range":["#a9a9a9","#4d4d4d","#333333"]},"legend":null},"strokeWidth":{"field":"t","type":"ordinal","scale":{"domain":["ci","loa","mean"],"range":[1.5,1.4,2]},"legend":null},"strokeDash":{"field":"t","type":"nominal","scale":{"domain":["ci","loa","mean"],"range":[[1,0],[1.5,1],[1,0]]},"legend":null}}},
{"data":{"name":"pts"},"transform":[{"filter":"datum.p=='A1'"}],"mark":"circle","encoding":{"x":{"field":"x","type":"quantitative","title":"meanRMSSD.1","scale":{"domain":[-9,169],"nice":false,"zero":false},"axis":{"values":[0,50,100,150],"labelOverlap":false,"labelExpr":"datum.value == 0 ? ',00' : replace(replace(format(datum.value, '.2f'), '.', ','), '\u2212', '-')"}},"y":{"field":"y","type":"quantitative","title":"diffRMSSD.1","scale":{"domain":[-33.6,33.6],"nice":false,"zero":false},"axis":{"values":[-30,-20,-10,0,10,20,30],"labelOverlap":false,"labelExpr":"datum.value == 0 ? ',00' : replace(replace(format(datum.value, '.2f'), '.', ','), '\u2212', '-')"}}}}]},
{"width":268,"height":157,"title":{"text":"B1","dx":-35,"dy":4},"layer":[
{"data":{"name":"lines"},"transform":[{"filter":"datum.p=='B1'"}],"mark":"rule","encoding":{"y":{"field":"y","type":"quantitative","title":"diffPNN50.1","scale":{"domain":[-27.6,27.6],"nice":false,"zero":false},"axis":{"values":[-25,-15,-5,5,15,25],"labelOverlap":false,"labelExpr":"datum.value == 0 ? ',00' : replace(replace(format(datum.value, '.2f'), '.', ','), '\u2212', '-')"}},"color":{"field":"t","type":"nominal","scale":{"domain":["ci","loa","mean"],"range":["#a9a9a9","#4d4d4d","#333333"]},"legend":null},"strokeWidth":{"field":"t","type":"ordinal","scale":{"domain":["ci","loa","mean"],"range":[1.5,1.4,2]},"legend":null},"strokeDash":{"field":"t","type":"nominal","scale":{"domain":["ci","loa","mean"],"range":[[1,0],[1.5,1],[1,0]]},"legend":null}}},
{"data":{"name":"pts"},"transform":[{"filter":"datum.p=='B1'"}],"mark":"circle","encoding":{"x":{"field":"x","type":"quantitative","title":"meanPNN50.1","scale":{"domain":[-5.9,105.9],"nice":false,"zero":false},"axis":{"values":[0,20,40,60,80,100],"labelOverlap":false,"labelExpr":"datum.value == 0 ? ',00' : replace(replace(format(datum.value, '.2f'), '.', ','), '\u2212', '-')"}},"y":{"field":"y","type":"quantitative","title":"diffPNN50.1","scale":{"domain":[-27.6,27.6],"nice":false,"zero":false},"axis":{"values":[-25,-15,-5,5,15,25],"labelOverlap":false,"labelExpr":"datum.value == 0 ? ',00' : replace(replace(format(datum.value, '.2f'), '.', ','), '\u2212', '-')"}}}}]},
{"width":270,"height":157,"title":{"text":"C1","dx":-33,"dy":2},"layer":[
{"data":{"name":"lines"},"transform":[{"filter":"datum.p=='C1'"}],"mark":"rule","encoding":{"y":{"field":"y","type":"quantitative","title":"diffLFms2.1","scale":{"domain":[-450,550],"nice":false,"zero":false},"axis":{"values":[-400,-200,0,200,400],"labelOverlap":false,"labelExpr":"datum.value == 0 ? ',00' : replace(replace(format(datum.value, '.2f'), '.', ','), '\u2212', '-')"}},"color":{"field":"t","type":"nominal","scale":{"domain":["ci","loa","mean"],"range":["#a9a9a9","#4d4d4d","#333333"]},"legend":null},"strokeWidth":{"field":"t","type":"ordinal","scale":{"domain":["ci","loa","mean"],"range":[1.5,1.4,2]},"legend":null},"strokeDash":{"field":"t","type":"nominal","scale":{"domain":["ci","loa","mean"],"range":[[1,0],[1.5,1],[1,0]]},"legend":null}}},
{"data":{"name":"pts"},"transform":[{"filter":"datum.p=='C1'"}],"mark":"circle","encoding":{"x":{"field":"x","type":"quantitative","title":"meanLFms2.1","scale":{"domain":[-28.6,527],"nice":false,"zero":false},"axis":{"values":[0,100,200,300,400,500],"labelOverlap":false,"labelExpr":"datum.value == 0 ? ',00' : replace(replace(format(datum.value, '.2f'), '.', ','), '\u2212', '-')"}},"y":{"field":"y","type":"quantitative","title":"diffLFms2.1","scale":{"domain":[-450,550],"nice":false,"zero":false},"axis":{"values":[-400,-200,0,200,400],"labelOverlap":false,"labelExpr":"datum.value == 0 ? ',00' : replace(replace(format(datum.value, '.2f'), '.', ','), '\u2212', '-')"}}}}]},
{"width":271,"height":157,"title":{"text":"D1","dx":-34,"dy":1},"layer":[
{"data":{"name":"lines"},"transform":[{"filter":"datum.p=='D1'"}],"mark":"rule","encoding":{"y":{"field":"y","type":"quantitative","title":"diffHFms2.1","scale":{"domain":[-66,88],"nice":false,"zero":false},"axis":{"values":[-60,-35,-10,15,40,65],"labelOverlap":false,"labelExpr":"datum.value == 0 ? ',00' : replace(replace(format(datum.value, '.2f'), '.', ','), '\u2212', '-')"}},"color":{"field":"t","type":"nominal","scale":{"domain":["ci","loa","mean"],"range":["#a9a9a9","#4d4d4d","#333333"]},"legend":null},"strokeWidth":{"field":"t","type":"ordinal","scale":{"domain":["ci","loa","mean"],"range":[1.5,1.4,2]},"legend":null},"strokeDash":{"field":"t","type":"nominal","scale":{"domain":["ci","loa","mean"],"range":[[1,0],[1.5,1],[1,0]]},"legend":null}}},
{"data":{"name":"pts"},"transform":[{"filter":"datum.p=='D1'"}],"mark":"circle","encoding":{"x":{"field":"x","type":"quantitative","title":"meanHFms2.1","scale":{"domain":[-4.7,105.7],"nice":false,"zero":false},"axis":{"values":[0,20,40,60,80,100],"labelOverlap":false,"labelExpr":"datum.value == 0 ? ',00' : replace(replace(format(datum.value, '.2f'), '.', ','), '\u2212', '-')"}},"y":{"field":"y","type":"quantitative","title":"diffHFms2.1","scale":{"domain":[-66,88],"nice":false,"zero":false},"axis":{"values":[-60,-35,-10,15,40,65],"labelOverlap":false,"labelExpr":"datum.value == 0 ? ',00' : replace(replace(format(datum.value, '.2f'), '.', ','), '\u2212', '-')"}}}}]},
{"width":270,"height":152,"title":{"text":"A2","dx":-38,"dy":2},"layer":[
{"data":{"name":"lines"},"transform":[{"filter":"datum.p=='A2'"}],"mark":"rule","encoding":{"y":{"field":"y","type":"quantitative","title":"diffRMSSD.2","scale":{"domain":[-33.6,32.8],"nice":false,"zero":false},"axis":{"values":[-30,-20,-10,0,10,20,30],"labelOverlap":false,"labelExpr":"datum.value == 0 ? ',00' : replace(replace(format(datum.value, '.2f'), '.', ','), '\u2212', '-')"}},"color":{"field":"t","type":"nominal","scale":{"domain":["ci","loa","mean"],"range":["#a9a9a9","#4d4d4d","#333333"]},"legend":null},"strokeWidth":{"field":"t","type":"ordinal","scale":{"domain":["ci","loa","mean"],"range":[1.5,1.4,2]},"legend":null},"strokeDash":{"field":"t","type":"nominal","scale":{"domain":["ci","loa","mean"],"range":[[1,0],[1.5,1],[1,0]]},"legend":null}}},
{"data":{"name":"pts"},"transform":[{"filter":"datum.p=='A2'"}],"mark":"circle","encoding":{"x":{"field":"x","type":"quantitative","title":"meanRMSSD.2","scale":{"domain":[-8,146.3],"nice":false,"zero":false},"axis":{"values":[0,25,50,75,100,125],"labelOverlap":false,"labelExpr":"datum.value == 0 ? ',00' : replace(replace(format(datum.value, '.2f'), '.', ','), '\u2212', '-')"}},"y":{"field":"y","type":"quantitative","title":"diffRMSSD.2","scale":{"domain":[-33.6,32.8],"nice":false,"zero":false},"axis":{"values":[-30,-20,-10,0,10,20,30],"labelOverlap":false,"labelExpr":"datum.value == 0 ? ',00' : replace(replace(format(datum.value, '.2f'), '.', ','), '\u2212', '-')"}}}}]},
{"width":268,"height":152,"title":{"text":"B2","dx":-34,"dy":2},"layer":[
{"data":{"name":"lines"},"transform":[{"filter":"datum.p=='B2'"}],"mark":"rule","encoding":{"y":{"field":"y","type":"quantitative","title":"diffPNN50.2","scale":{"domain":[-28.4,27.6],"nice":false,"zero":false},"axis":{"values":[-25,-15,-5,5,15,25],"labelOverlap":false,"labelExpr":"datum.value == 0 ? ',00' : replace(replace(format(datum.value, '.2f'), '.', ','), '\u2212', '-')"}},"color":{"field":"t","type":"nominal","scale":{"domain":["ci","loa","mean"],"range":["#a9a9a9","#4d4d4d","#333333"]},"legend":null},"strokeWidth":{"field":"t","type":"ordinal","scale":{"domain":["ci","loa","mean"],"range":[1.5,1.4,2]},"legend":null},"strokeDash":{"field":"t","type":"nominal","scale":{"domain":["ci","loa","mean"],"range":[[1,0],[1.5,1],[1,0]]},"legend":null}}},
{"data":{"name":"pts"},"transform":[{"filter":"datum.p=='B2'"}],"mark":"circle","encoding":{"x":{"field":"x","type":"quantitative","title":"meanPNN50.2","scale":{"domain":[-4.8,106.5],"nice":false,"zero":false},"axis":{"values":[0,20,40,60,80,100],"labelOverlap":false,"labelExpr":"datum.value == 0 ? ',00' : replace(replace(format(datum.value, '.2f'), '.', ','), '\u2212', '-')"}},"y":{"field":"y","type":"quantitative","title":"diffPNN50.2","scale":{"domain":[-28.4,27.6],"nice":false,"zero":false},"axis":{"values":[-25,-15,-5,5,15,25],"labelOverlap":false,"labelExpr":"datum.value == 0 ? ',00' : replace(replace(format(datum.value, '.2f'), '.', ','), '\u2212', '-')"}}}}]},
{"width":270,"height":152,"title":{"text":"C2","dx":-34,"dy":1},"layer":[
{"data":{"name":"lines"},"transform":[{"filter":"datum.p=='C2'"}],"mark":"rule","encoding":{"y":{"field":"y","type":"quantitative","title":"diffLFms2.2","scale":{"domain":[-447,636],"nice":false,"zero":false},"axis":{"values":[-400,-200,0,200,400,600],"labelOverlap":false,"labelExpr":"datum.value == 0 ? ',00' : replace(replace(format(datum.value, '.2f'), '.', ','), '\u2212', '-')"}},"color":{"field":"t","type":"nominal","scale":{"domain":["ci","loa","mean"],"range":["#a9a9a9","#4d4d4d","#333333"]},"legend":null},"strokeWidth":{"field":"t","type":"ordinal","scale":{"domain":["ci","loa","mean"],"range":[1.5,1.4,2]},"legend":null},"strokeDash":{"field":"t","type":"nominal","scale":{"domain":["ci","loa","mean"],"range":[[1,0],[1.5,1],[1,0]]},"legend":null}}},
{"data":{"name":"pts"},"transform":[{"filter":"datum.p=='C2'"}],"mark":"circle","encoding":{"x":{"field":"x","type":"quantitative","title":"meanLFms2.2","scale":{"domain":[-34,633],"nice":false,"zero":false},"axis":{"values":[0,100,200,300,400,500,600],"labelOverlap":false,"labelExpr":"datum.value == 0 ? ',00' : replace(replace(format(datum.value, '.2f'), '.', ','), '\u2212', '-')"}},"y":{"field":"y","type":"quantitative","title":"diffLFms2.2","scale":{"domain":[-447,636],"nice":false,"zero":false},"axis":{"values":[-400,-200,0,200,400,600],"labelOverlap":false,"labelExpr":"datum.value == 0 ? ',00' : replace(replace(format(datum.value, '.2f'), '.', ','), '\u2212', '-')"}}}}]},
{"width":271,"height":152,"title":{"text":"D2","dx":-34,"dy":1},"layer":[
{"data":{"name":"lines"},"transform":[{"filter":"datum.p=='D2'"}],"mark":"rule","encoding":{"y":{"field":"y","type":"quantitative","title":"diffHFms2.2","scale":{"domain":[-66.5,86.2],"nice":false,"zero":false},"axis":{"values":[-60,-35,-10,15,40,65],"labelOverlap":false,"labelExpr":"datum.value == 0 ? ',00' : replace(replace(format(datum.value, '.2f'), '.', ','), '\u2212', '-')"}},"color":{"field":"t","type":"nominal","scale":{"domain":["ci","loa","mean"],"range":["#a9a9a9","#4d4d4d","#333333"]},"legend":null},"strokeWidth":{"field":"t","type":"ordinal","scale":{"domain":["ci","loa","mean"],"range":[1.5,1.4,2]},"legend":null},"strokeDash":{"field":"t","type":"nominal","scale":{"domain":["ci","loa","mean"],"range":[[1,0],[1.5,1],[1,0]]},"legend":null}}},
{"data":{"name":"pts"},"transform":[{"filter":"datum.p=='D2'"}],"mark":"circle","encoding":{"x":{"field":"x","type":"quantitative","title":"meanHFms2.2","scale":{"domain":[-4.9,105.6],"nice":false,"zero":false},"axis":{"values":[0,20,40,60,80,100],"labelOverlap":false,"labelExpr":"datum.value == 0 ? ',00' : replace(replace(format(datum.value, '.2f'), '.', ','), '\u2212', '-')"}},"y":{"field":"y","type":"quantitative","title":"diffHFms2.2","scale":{"domain":[-66.5,86.2],"nice":false,"zero":false},"axis":{"values":[-60,-35,-10,15,40,65],"labelOverlap":false,"labelExpr":"datum.value == 0 ? ',00' : replace(replace(format(datum.value, '.2f'), '.', ','), '\u2212', '-')"}}}}]},
{"width":270,"height":153,"title":{"text":"A3","dx":-36,"dy":2},"layer":[
{"data":{"name":"lines"},"transform":[{"filter":"datum.p=='A3'"}],"mark":"rule","encoding":{"y":{"field":"y","type":"quantitative","title":"diffRMSSD.3","scale":{"domain":[-33.5,32.5],"nice":false,"zero":false},"axis":{"values":[-30,-20,-10,0,10,20,30],"labelOverlap":false,"labelExpr":"datum.value == 0 ? ',00' : replace(replace(format(datum.value, '.2f'), '.', ','), '\u2212', '-')"}},"color":{"field":"t","type":"nominal","scale":{"domain":["ci","loa","mean"],"range":["#a9a9a9","#4d4d4d","#333333"]},"legend":null},"strokeWidth":{"field":"t","type":"ordinal","scale":{"domain":["ci","loa","mean"],"range":[1.5,1.4,2]},"legend":null},"strokeDash":{"field":"t","type":"nominal","scale":{"domain":["ci","loa","mean"],"range":[[1,0],[1.5,1],[1,0]]},"legend":null}}},
{"data":{"name":"pts"},"transform":[{"filter":"datum.p=='A3'"}],"mark":"circle","encoding":{"x":{"field":"x","type":"quantitative","title":"meanRMSSD.3","scale":{"domain":[-7,131.6],"nice":false,"zero":false},"axis":{"values":[0,20,40,60,80,100,120],"labelOverlap":false,"labelExpr":"datum.value == 0 ? ',00' : replace(replace(format(datum.value, '.2f'), '.', ','), '\u2212', '-')"}},"y":{"field":"y","type":"quantitative","title":"diffRMSSD.3","scale":{"domain":[-33.5,32.5],"nice":false,"zero":false},"axis":{"values":[-30,-20,-10,0,10,20,30],"labelOverlap":false,"labelExpr":"datum.value == 0 ? ',00' : replace(replace(format(datum.value, '.2f'), '.', ','), '\u2212', '-')"}}}}]},
{"width":268,"height":153,"title":{"text":"B3","dx":-33,"dy":2},"layer":[
{"data":{"name":"lines"},"transform":[{"filter":"datum.p=='B3'"}],"mark":"rule","encoding":{"y":{"field":"y","type":"quantitative","title":"diffPNN50.3","scale":{"domain":[-27.8,27.4],"nice":false,"zero":false},"axis":{"values":[-25,-15,-5,5,15,25],"labelOverlap":false,"labelExpr":"datum.value == 0 ? ',00' : replace(replace(format(datum.value, '.2f'), '.', ','), '\u2212', '-')"}},"color":{"field":"t","type":"nominal","scale":{"domain":["ci","loa","mean"],"range":["#a9a9a9","#4d4d4d","#333333"]},"legend":null},"strokeWidth":{"field":"t","type":"ordinal","scale":{"domain":["ci","loa","mean"],"range":[1.5,1.4,2]},"legend":null},"strokeDash":{"field":"t","type":"nominal","scale":{"domain":["ci","loa","mean"],"range":[[1,0],[1.5,1],[1,0]]},"legend":null}}},
{"data":{"name":"pts"},"transform":[{"filter":"datum.p=='B3'"}],"mark":"circle","encoding":{"x":{"field":"x","type":"quantitative","title":"meanPNN50.3","scale":{"domain":[-6.3,105.6],"nice":false,"zero":false},"axis":{"values":[0,20,40,60,80,100],"labelOverlap":false,"labelExpr":"datum.value == 0 ? ',00' : replace(replace(format(datum.value, '.2f'), '.', ','), '\u2212', '-')"}},"y":{"field":"y","type":"quantitative","title":"diffPNN50.3","scale":{"domain":[-27.8,27.4],"nice":false,"zero":false},"axis":{"values":[-25,-15,-5,5,15,25],"labelOverlap":false,"labelExpr":"datum.value == 0 ? ',00' : replace(replace(format(datum.value, '.2f'), '.', ','), '\u2212', '-')"}}}}]},
{"width":270,"height":153,"title":{"text":"C3","dx":-33,"dy":2},"layer":[
{"data":{"name":"lines"},"transform":[{"filter":"datum.p=='C3'"}],"mark":"rule","encoding":{"y":{"field":"y","type":"quantitative","title":"diffLFms2.3","scale":{"domain":[-443,540],"nice":false,"zero":false},"axis":{"values":[-400,-200,0,200,400],"labelOverlap":false,"labelExpr":"datum.value == 0 ? ',00' : replace(replace(format(datum.value, '.2f'), '.', ','), '\u2212', '-')"}},"color":{"field":"t","type":"nominal","scale":{"domain":["ci","loa","mean"],"range":["#a9a9a9","#4d4d4d","#333333"]},"legend":null},"strokeWidth":{"field":"t","type":"ordinal","scale":{"domain":["ci","loa","mean"],"range":[1.5,1.4,2]},"legend":null},"strokeDash":{"field":"t","type":"nominal","scale":{"domain":["ci","loa","mean"],"range":[[1,0],[1.5,1],[1,0]]},"legend":null}}},
{"data":{"name":"pts"},"transform":[{"filter":"datum.p=='C3'"}],"mark":"circle","encoding":{"x":{"field":"x","type":"quantitative","title":"meanLFms2.3","scale":{"domain":[-41,818],"nice":false,"zero":false},"axis":{"values":[0,200,400,600,800],"labelOverlap":false,"labelExpr":"datum.value == 0 ? ',00' : replace(replace(format(datum.value, '.2f'), '.', ','), '\u2212', '-')"}},"y":{"field":"y","type":"quantitative","title":"diffLFms2.3","scale":{"domain":[-443,540],"nice":false,"zero":false},"axis":{"values":[-400,-200,0,200,400],"labelOverlap":false,"labelExpr":"datum.value == 0 ? ',00' : replace(replace(format(datum.value, '.2f'), '.', ','), '\u2212', '-')"}}}}]},
{"width":271,"height":153,"title":{"text":"D3","dx":-34,"dy":2},"layer":[
{"data":{"name":"lines"},"transform":[{"filter":"datum.p=='D3'"}],"mark":"rule","encoding":{"y":{"field":"y","type":"quantitative","title":"diffHFms2.3","scale":{"domain":[-67.7,85.7],"nice":false,"zero":false},"axis":{"values":[-50,-25,0,25,50,75],"labelOverlap":false,"labelExpr":"datum.value == 0 ? ',00' : replace(replace(format(datum.value, '.2f'), '.', ','), '\u2212', '-')"}},"color":{"field":"t","type":"nominal","scale":{"domain":["ci","loa","mean"],"range":["#a9a9a9","#4d4d4d","#333333"]},"legend":null},"strokeWidth":{"field":"t","type":"ordinal","scale":{"domain":["ci","loa","mean"],"range":[1.5,1.4,2]},"legend":null},"strokeDash":{"field":"t","type":"nominal","scale":{"domain":["ci","loa","mean"],"range":[[1,0],[1.5,1],[1,0]]},"legend":null}}},
{"data":{"name":"pts"},"transform":[{"filter":"datum.p=='D3'"}],"mark":"circle","encoding":{"x":{"field":"x","type":"quantitative","title":"meanHFms2.3","scale":{"domain":[-5.3,103.1],"nice":false,"zero":false},"axis":{"values":[0,20,40,60,80,100],"labelOverlap":false,"labelExpr":"datum.value == 0 ? ',00' : replace(replace(format(datum.value, '.2f'), '.', ','), '\u2212', '-')"}},"y":{"field":"y","type":"quantitative","title":"diffHFms2.3","scale":{"domain":[-67.7,85.7],"nice":false,"zero":false},"axis":{"values":[-50,-25,0,25,50,75],"labelOverlap":false,"labelExpr":"datum.value == 0 ? ',00' : replace(replace(format(datum.value, '.2f'), '.', ','), '\u2212', '-')"}}}}]},
{"width":270,"height":152,"title":{"text":"A4","dx":-37,"dy":2},"layer":[
{"data":{"name":"lines"},"transform":[{"filter":"datum.p=='A4'"}],"mark":"rule","encoding":{"y":{"field":"y","type":"quantitative","title":"diffRMSSD.4","scale":{"domain":[-33.5,33],"nice":false,"zero":false},"axis":{"values":[-30,-20,-10,0,10,20,30],"labelOverlap":false,"labelExpr":"datum.value == 0 ? ',00' : replace(replace(format(datum.value, '.2f'), '.', ','), '\u2212', '-')"}},"color":{"field":"t","type":"nominal","scale":{"domain":["ci","loa","mean"],"range":["#a9a9a9","#4d4d4d","#333333"]},"legend":null},"strokeWidth":{"field":"t","type":"ordinal","scale":{"domain":["ci","loa","mean"],"range":[1.5,1.4,2]},"legend":null},"strokeDash":{"field":"t","type":"nominal","scale":{"domain":["ci","loa","mean"],"range":[[1,0],[1.5,1],[1,0]]},"legend":null}}},
{"data":{"name":"pts"},"transform":[{"filter":"datum.p=='A4'"}],"mark":"circle","encoding":{"x":{"field":"x","type":"quantitative","title":"meanRMSSD.4","scale":{"domain":[-8,148],"nice":false,"zero":false},"axis":{"values":[0,25,50,75,100,125],"labelOverlap":false,"labelExpr":"datum.value == 0 ? ',00' : replace(replace(format(datum.value, '.2f'), '.', ','), '\u2212', '-')"}},"y":{"field":"y","type":"quantitative","title":"diffRMSSD.4","scale":{"domain":[-33.5,33],"nice":false,"zero":false},"axis":{"values":[-30,-20,-10,0,10,20,30],"labelOverlap":false,"labelExpr":"datum.value == 0 ? ',00' : replace(replace(format(datum.value, '.2f'), '.', ','), '\u2212', '-')"}}}}]},
{"width":268,"height":152,"title":{"text":"B4","dx":-35,"dy":2},"layer":[
{"data":{"name":"lines"},"transform":[{"filter":"datum.p=='B4'"}],"mark":"rule","encoding":{"y":{"field":"y","type":"quantitative","title":"diffPNN50.4","scale":{"domain":[-27.6,27.3],"nice":false,"zero":false},"axis":{"values":[-25,-15,-5,5,15,25],"labelOverlap":false,"labelExpr":"datum.value == 0 ? ',00' : replace(replace(format(datum.value, '.2f'), '.', ','), '\u2212', '-')"}},"color":{"field":"t","type":"nominal","scale":{"domain":["ci","loa","mean"],"range":["#a9a9a9","#4d4d4d","#333333"]},"legend":null},"strokeWidth":{"field":"t","type":"ordinal","scale":{"domain":["ci","loa","mean"],"range":[1.5,1.4,2]},"legend":null},"strokeDash":{"field":"t","type":"nominal","scale":{"domain":["ci","loa","mean"],"range":[[1,0],[1.5,1],[1,0]]},"legend":null}}},
{"data":{"name":"pts"},"transform":[{"filter":"datum.p=='B4'"}],"mark":"circle","encoding":{"x":{"field":"x","type":"quantitative","title":"meanPNN50.4","scale":{"domain":[-4.9,84.9],"nice":false,"zero":false},"axis":{"values":[0,20,40,60,80],"labelOverlap":false,"labelExpr":"datum.value == 0 ? ',00' : replace(replace(format(datum.value, '.2f'), '.', ','), '\u2212', '-')"}},"y":{"field":"y","type":"quantitative","title":"diffPNN50.4","scale":{"domain":[-27.6,27.3],"nice":false,"zero":false},"axis":{"values":[-25,-15,-5,5,15,25],"labelOverlap":false,"labelExpr":"datum.value == 0 ? ',00' : replace(replace(format(datum.value, '.2f'), '.', ','), '\u2212', '-')"}}}}]},
{"width":270,"height":152,"title":{"text":"C4","dx":-33,"dy":2},"layer":[
{"data":{"name":"lines"},"transform":[{"filter":"datum.p=='C4'"}],"mark":"rule","encoding":{"y":{"field":"y","type":"quantitative","title":"diffLFms2.4","scale":{"domain":[-450,460],"nice":false,"zero":false},"axis":{"values":[-400,-200,0,200,400],"labelOverlap":false,"labelExpr":"datum.value == 0 ? ',00' : replace(replace(format(datum.value, '.2f'), '.', ','), '\u2212', '-')"}},"color":{"field":"t","type":"nominal","scale":{"domain":["ci","loa","mean"],"range":["#a9a9a9","#4d4d4d","#333333"]},"legend":null},"strokeWidth":{"field":"t","type":"ordinal","scale":{"domain":["ci","loa","mean"],"range":[1.5,1.4,2]},"legend":null},"strokeDash":{"field":"t","type":"nominal","scale":{"domain":["ci","loa","mean"],"range":[[1,0],[1.5,1],[1,0]]},"legend":null}}},
{"data":{"name":"pts"},"transform":[{"filter":"datum.p=='C4'"}],"mark":"circle","encoding":{"x":{"field":"x","type":"quantitative","title":"meanLFms2.4","scale":{"domain":[-53,1041],"nice":false,"zero":false},"axis":{"values":[0,200,400,600,800,1000],"labelOverlap":false,"labelExpr":"datum.value == 0 ? ',00' : replace(replace(format(datum.value, '.2f'), '.', ','), '\u2212', '-')"}},"y":{"field":"y","type":"quantitative","title":"diffLFms2.4","scale":{"domain":[-450,460],"nice":false,"zero":false},"axis":{"values":[-400,-200,0,200,400],"labelOverlap":false,"labelExpr":"datum.value == 0 ? ',00' : replace(replace(format(datum.value, '.2f'), '.', ','), '\u2212', '-')"}}}}]},
{"width":271,"height":152,"title":{"text":"D4","dx":-34,"dy":2},"layer":[
{"data":{"name":"lines"},"transform":[{"filter":"datum.p=='D4'"}],"mark":"rule","encoding":{"y":{"field":"y","type":"quantitative","title":"diffHFms2.4","scale":{"domain":[-66,88],"nice":false,"zero":false},"axis":{"values":[-60,-35,-10,15,40,65],"labelOverlap":false,"labelExpr":"datum.value == 0 ? ',00' : replace(replace(format(datum.value, '.2f'), '.', ','), '\u2212', '-')"}},"color":{"field":"t","type":"nominal","scale":{"domain":["ci","loa","mean"],"range":["#a9a9a9","#4d4d4d","#333333"]},"legend":null},"strokeWidth":{"field":"t","type":"ordinal","scale":{"domain":["ci","loa","mean"],"range":[1.5,1.4,2]},"legend":null},"strokeDash":{"field":"t","type":"nominal","scale":{"domain":["ci","loa","mean"],"range":[[1,0],[1.5,1],[1,0]]},"legend":null}}},
{"data":{"name":"pts"},"transform":[{"filter":"datum.p=='D4'"}],"mark":"circle","encoding":{"x":{"field":"x","type":"quantitative","title":"meanHFms2.4","scale":{"domain":[-4.8,90],"nice":false,"zero":false},"axis":{"values":[0,20,40,60,80],"labelOverlap":false,"labelExpr":"datum.value == 0 ? ',00' : replace(replace(format(datum.value, '.2f'), '.', ','), '\u2212', '-')"}},"y":{"field":"y","type":"quantitative","title":"diffHFms2.4","scale":{"domain":[-66,88],"nice":false,"zero":false},"axis":{"values":[-60,-35,-10,15,40,65],"labelOverlap":false,"labelExpr":"datum.value == 0 ? ',00' : replace(replace(format(datum.value, '.2f'), '.', ','), '\u2212', '-')"}}}}]},
{"width":270,"height":153,"title":{"text":"A5","dx":-37,"dy":4},"layer":[
{"data":{"name":"lines"},"transform":[{"filter":"datum.p=='A5'"}],"mark":"rule","encoding":{"y":{"field":"y","type":"quantitative","title":"diffRMSSD.5","scale":{"domain":[-33.2,33.4],"nice":false,"zero":false},"axis":{"values":[-30,-20,-10,0,10,20,30],"labelOverlap":false,"labelExpr":"datum.value == 0 ? ',00' : replace(replace(format(datum.value, '.2f'), '.', ','), '\u2212', '-')"}},"color":{"field":"t","type":"nominal","scale":{"domain":["ci","loa","mean"],"range":["#a9a9a9","#4d4d4d","#333333"]},"legend":null},"strokeWidth":{"field":"t","type":"ordinal","scale":{"domain":["ci","loa","mean"],"range":[1.5,1.4,2]},"legend":null},"strokeDash":{"field":"t","type":"nominal","scale":{"domain":["ci","loa","mean"],"range":[[1,0],[1.5,1],[1,0]]},"legend":null}}},
{"data":{"name":"pts"},"transform":[{"filter":"datum.p=='A5'"}],"mark":"circle","encoding":{"x":{"field":"x","type":"quantitative","title":"meanRMSSD.5","scale":{"domain":[-6.1,128.7],"nice":false,"zero":false},"axis":{"values":[0,20,40,60,80,100,120],"labelOverlap":false,"labelExpr":"datum.value == 0 ? ',00' : replace(replace(format(datum.value, '.2f'), '.', ','), '\u2212', '-')"}},"y":{"field":"y","type":"quantitative","title":"diffRMSSD.5","scale":{"domain":[-33.2,33.4],"nice":false,"zero":false},"axis":{"values":[-30,-20,-10,0,10,20,30],"labelOverlap":false,"labelExpr":"datum.value == 0 ? ',00' : replace(replace(format(datum.value, '.2f'), '.', ','), '\u2212', '-')"}}}}]},
{"width":268,"height":153,"title":{"text":"B5","dx":-32,"dy":4},"layer":[
{"data":{"name":"lines"},"transform":[{"filter":"datum.p=='B5'"}],"mark":"rule","encoding":{"y":{"field":"y","type":"quantitative","title":"diffPNN50.5","scale":{"domain":[-27.4,27.6],"nice":false,"zero":false},"axis":{"values":[-25,-15,-5,5,15,25],"labelOverlap":false,"labelExpr":"datum.value == 0 ? ',00' : replace(replace(format(datum.value, '.2f'), '.', ','), '\u2212', '-')"}},"color":{"field":"t","type":"nominal","scale":{"domain":["ci","loa","mean"],"range":["#a9a9a9","#4d4d4d","#333333"]},"legend":null},"strokeWidth":{"field":"t","type":"ordinal","scale":{"domain":["ci","loa","mean"],"range":[1.5,1.4,2]},"legend":null},"strokeDash":{"field":"t","type":"nominal","scale":{"domain":["ci","loa","mean"],"range":[[1,0],[1.5,1],[1,0]]},"legend":null}}},
{"data":{"name":"pts"},"transform":[{"filter":"datum.p=='B5'"}],"mark":"circle","encoding":{"x":{"field":"x","type":"quantitative","title":"meanPNN50.5","scale":{"domain":[-4.2,74.5],"nice":false,"zero":false},"axis":{"values":[0,20,40,60],"labelOverlap":false,"labelExpr":"datum.value == 0 ? ',00' : replace(replace(format(datum.value, '.2f'), '.', ','), '\u2212', '-')"}},"y":{"field":"y","type":"quantitative","title":"diffPNN50.5","scale":{"domain":[-27.4,27.6],"nice":false,"zero":false},"axis":{"values":[-25,-15,-5,5,15,25],"labelOverlap":false,"labelExpr":"datum.value == 0 ? ',00' : replace(replace(format(datum.value, '.2f'), '.', ','), '\u2212', '-')"}}}}]},
{"width":270,"height":153,"title":{"text":"C5","dx":-30,"dy":4},"layer":[
{"data":{"name":"lines"},"transform":[{"filter":"datum.p=='C5'"}],"mark":"rule","encoding":{"y":{"field":"y","type":"quantitative","title":"diffLFms2.5","scale":{"domain":[-448,539],"nice":false,"zero":false},"axis":{"values":[-400,-200,0,200,400],"labelOverlap":false,"labelExpr":"datum.value == 0 ? ',00' : replace(replace(format(datum.value, '.2f'), '.', ','), '\u2212', '-')"}},"color":{"field":"t","type":"nominal","scale":{"domain":["ci","loa","mean"],"range":["#a9a9a9","#4d4d4d","#333333"]},"legend":null},"strokeWidth":{"field":"t","type":"ordinal","scale":{"domain":["ci","loa","mean"],"range":[1.5,1.4,2]},"legend":null},"strokeDash":{"field":"t","type":"nominal","scale":{"domain":["ci","loa","mean"],"range":[[1,0],[1.5,1],[1,0]]},"legend":null}}},
{"data":{"name":"pts"},"transform":[{"filter":"datum.p=='C5'"}],"mark":"circle","encoding":{"x":{"field":"x","type":"quantitative","title":"meanLFms2.5","scale":{"domain":[-58,1060],"nice":false,"zero":false},"axis":{"values":[0,200,400,600,800,1000],"labelOverlap":false,"labelExpr":"datum.value == 0 ? ',00' : replace(replace(format(datum.value, '.2f'), '.', ','), '\u2212', '-')"}},"y":{"field":"y","type":"quantitative","title":"diffLFms2.5","scale":{"domain":[-448,539],"nice":false,"zero":false},"axis":{"values":[-400,-200,0,200,400],"labelOverlap":false,"labelExpr":"datum.value == 0 ? ',00' : replace(replace(format(datum.value, '.2f'), '.', ','), '\u2212', '-')"}}}}]},
{"width":271,"height":153,"title":{"text":"D5","dx":-37,"dy":4},"layer":[
{"data":{"name":"lines"},"transform":[{"filter":"datum.p=='D5'"}],"mark":"rule","encoding":{"y":{"field":"y","type":"quantitative","title":"diffHFms2.5","scale":{"domain":[-66.7,88],"nice":false,"zero":false},"axis":{"values":[-60,-35,-10,15,40,65],"labelOverlap":false,"labelExpr":"datum.value == 0 ? ',00' : replace(replace(format(datum.value, '.2f'), '.', ','), '\u2212', '-')"}},"color":{"field":"t","type":"nominal","scale":{"domain":["ci","loa","mean"],"range":["#a9a9a9","#4d4d4d","#333333"]},"legend":null},"strokeWidth":{"field":"t","type":"ordinal","scale":{"domain":["ci","loa","mean"],"range":[1.5,1.4,2]},"legend":null},"strokeDash":{"field":"t","type":"nominal","scale":{"domain":["ci","loa","mean"],"range":[[1,0],[1.5,1],[1,0]]},"legend":null}}},
{"data":{"name":"pts"},"transform":[{"filter":"datum.p=='D5'"}],"mark":"circle","encoding":{"x":{"field":"x","type":"quantitative","title":"meanHFms2.5","scale":{"domain":[-4.5,86],"nice":false,"zero":false},"axis":{"values":[0,20,40,60,80],"labelOverlap":false,"labelExpr":"datum.value == 0 ? ',00' : replace(replace(format(datum.value, '.2f'), '.', ','), '\u2212', '-')"}},"y":{"field":"y","type":"quantitative","title":"diffHFms2.5","scale":{"domain":[-66.7,88],"nice":false,"zero":false},"axis":{"values":[-60,-35,-10,15,40,65],"labelOverlap":false,"labelExpr":"datum.value == 0 ? ',00' : replace(replace(format(datum.value, '.2f'), '.', ','), '\u2212', '-')"}}}}]}
]
}
